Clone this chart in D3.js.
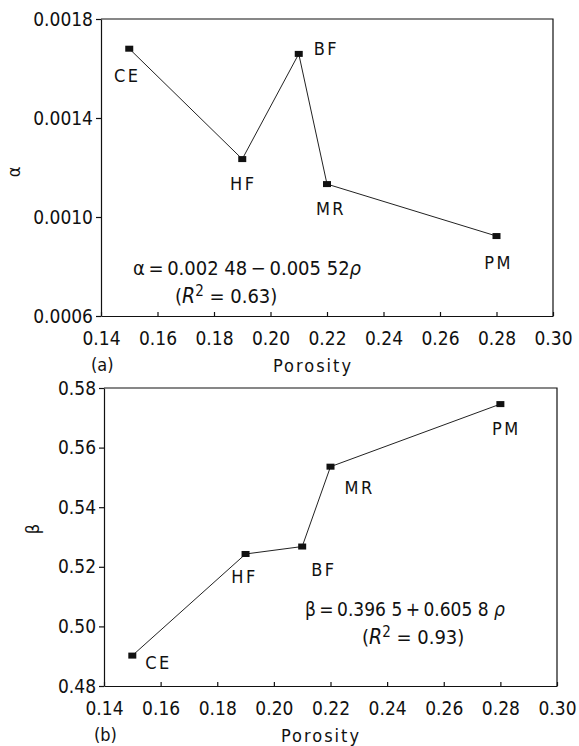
<!DOCTYPE html>
<html>
<head>
<meta charset="utf-8">
<script src="https://cdnjs.cloudflare.com/ajax/libs/d3/7.8.5/d3.min.js"></script>
<style>
  body { margin: 0; background: #fff; }
  svg text { font-family: "DejaVu Sans Condensed", "DejaVu Sans", sans-serif; font-stretch: condensed; fill: #111; }
</style>
</head>
<body>
<div class="chart"></div>
<script>
const width = 579;
const height = 746;

// data
const sites = ["CE", "HF", "BF", "MR", "PM"];
const porosity = [0.15, 0.19, 0.21, 0.22, 0.28];
const alphaVals = [0.00168, 0.001234, 0.001659, 0.001133, 0.000923];
const betaVals = [0.4902, 0.5243, 0.5268, 0.5536, 0.5746];
const xTicks = [0.14, 0.16, 0.18, 0.20, 0.22, 0.24, 0.26, 0.28, 0.30];
const alphaTicks = [0.0006, 0.0010, 0.0014, 0.0018];
const betaTicks = [0.48, 0.50, 0.52, 0.54, 0.56, 0.58];

const svg = d3.select(".chart")
  .append("svg")
  .attr("width", width)
  .attr("height", height);

// label offsets from marker: [dx, dy, anchor]
const offA = [[-2, 33, "middle"], [1, 31, "middle"], [15, 1, "start"], [4, 31, "middle"], [2, 33, "middle"]];
const offB = [[13, 13, "start"], [-1, 29, "middle"], [9, 29, "start"], [14, 27, "start"], [6, 31, "middle"]];

function panel(cfg) {
  const x = d3.scaleLinear().domain([0.14, 0.30]).range([cfg.left, cfg.right]);
  const y = d3.scaleLinear().domain(cfg.yDomain).range([cfg.bottom, cfg.top]);
  const g = svg.append("g");

  // frame (top / right)
  g.append("path")
    .attr("d", `M${cfg.left},${cfg.top}H${cfg.right}V${cfg.bottom}`)
    .attr("fill", "none").attr("stroke", "#111").attr("stroke-width", 1.2);

  const xAxis = d3.axisBottom(x).tickValues(xTicks).tickSize(-4).tickSizeOuter(0)
    .tickPadding(15).tickFormat(d3.format(".2f"));
  const gx = g.append("g")
    .attr("transform", "translate(0," + cfg.bottom + ")")
    .call(xAxis);
  gx.selectAll("text").attr("font-size", 19).attr("dy", "0.72em");

  const yAxis = d3.axisLeft(y).tickValues(cfg.yTicks).tickSize(5).tickSizeOuter(0)
    .tickPadding(3).tickFormat(d3.format(cfg.yFormat));
  const gy = g.append("g")
    .attr("transform", "translate(" + cfg.left + ",0)")
    .call(yAxis);
  gy.selectAll("text").attr("font-size", 19);

  [gx, gy].forEach(a => {
    a.selectAll("path, line").attr("stroke", "#111").attr("stroke-width", 1.2);
  });

  const pts = sites.map((s, i) => ({ s: s, x: porosity[i], y: cfg.vals[i] }));

  const line = d3.line().x(d => x(d.x)).y(d => y(d.y));
  g.append("path")
    .datum(pts)
    .attr("d", line)
    .attr("fill", "none")
    .attr("stroke", "#222")
    .attr("stroke-width", 1);

  g.selectAll("rect.pt")
    .data(pts)
    .enter()
    .append("rect")
    .attr("class", "pt")
    .attr("x", d => x(d.x) - 4)
    .attr("y", d => y(d.y) - 3)
    .attr("width", 8)
    .attr("height", 6)
    .attr("fill", "#111");

  g.selectAll("text.lab")
    .data(pts)
    .enter()
    .append("text")
    .attr("class", "lab")
    .attr("x", (d, i) => x(d.x) + cfg.off[i][0])
    .attr("y", (d, i) => y(d.y) + cfg.off[i][1])
    .attr("text-anchor", (d, i) => cfg.off[i][2])
    .attr("font-size", 18)
    .attr("letter-spacing", 2.5)
    .text(d => d.s);

  // axis label (rotated greek letter)
  g.append("text")
    .attr("transform", `translate(${cfg.yLabX},${cfg.yLabY}) rotate(-90)`)
    .attr("text-anchor", "middle")
    .attr("font-size", 18)
    .text(cfg.yLabel);

  g.append("text")
    .attr("x", cfg.porX)
    .attr("y", cfg.bottom + 56)
    .attr("text-anchor", "middle")
    .attr("font-size", 18)
    .attr("letter-spacing", 2)
    .text("Porosity");

  g.append("text")
    .attr("x", cfg.left - 10)
    .attr("y", cfg.bottom + 55)
    .attr("font-size", 18)
    .text(cfg.tag);

  // regression equation
  const eq = g.append("text")
    .attr("x", cfg.eqX)
    .attr("y", cfg.eqY)
    .attr("font-size", cfg.eqSize);
  eq.append("tspan").text(cfg.eq);
  eq.append("tspan").attr("font-style", "italic").text("ρ");

  const r2 = g.append("text")
    .attr("x", cfg.r2X)
    .attr("y", cfg.eqY + 28)
    .attr("font-size", 20);
  r2.append("tspan").text("(");
  r2.append("tspan").attr("font-style", "italic").attr("font-size", 21).text("R");
  r2.append("tspan").attr("dy", -7).attr("font-size", 15).text("2");
  r2.append("tspan").attr("dy", 7).text(cfg.r2);
}

panel({
  left: 101, right: 553, top: 19, bottom: 316,
  yDomain: [0.0006, 0.0018], yTicks: alphaTicks, yFormat: ".4f",
  vals: alphaVals, off: offA, yLabel: "α", yLabX: 20, yLabY: 172,
  tag: "(a)", porX: 313,
  eq: "α\u2009=\u20090.002 48\u2009−\u20090.005 52", eqX: 133, eqY: 275, eqSize: 20,
  r2X: 175, r2: " = 0.63)"
});

panel({
  left: 104, right: 557, top: 388, bottom: 686,
  yDomain: [0.48, 0.58], yTicks: betaTicks, yFormat: ".2f",
  vals: betaVals, off: offB, yLabel: "β", yLabX: 39, yLabY: 529,
  tag: "(b)", porX: 321,
  eq: "β\u2009=\u20090.396 5\u2009+\u20090.605 8 ", eqX: 305, eqY: 616, eqSize: 19,
  r2X: 362, r2: " = 0.93)"
});
</script>
</body>
</html>
